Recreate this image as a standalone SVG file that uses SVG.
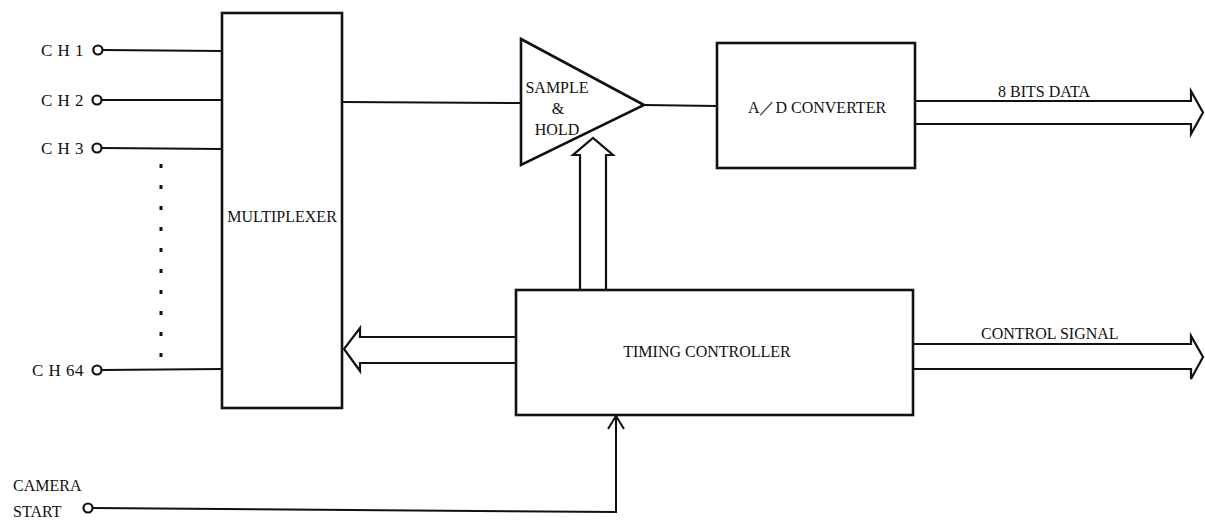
<svg xmlns="http://www.w3.org/2000/svg" width="1205" height="527" viewBox="0 0 1205 527">
<style>
.box{fill:#fff;stroke:#111;stroke-width:2.6}
.ln{fill:none;stroke:#111;stroke-width:2}
.hol{fill:#fff;stroke:#111;stroke-width:2.2;stroke-linejoin:miter}
.term{fill:#fff;stroke:#111;stroke-width:2.2}
text{font-family:"Liberation Serif","Times New Roman",serif;fill:#111;font-size:16px}
.c{text-anchor:middle}
.ch{text-anchor:end;font-size:17px;letter-spacing:0.5px}
</style>
<rect width="1205" height="527" fill="#fff"/>
<g id="connectors">
<line class="ln" x1="103" y1="50" x2="222" y2="51"/>
<line class="ln" x1="102" y1="100" x2="222" y2="100"/>
<line class="ln" x1="102" y1="148" x2="222" y2="149"/>
<line class="ln" x1="102" y1="370" x2="222" y2="369"/>
<line x1="161" y1="164" x2="161" y2="360" stroke="#111" stroke-width="3" stroke-dasharray="4 17"/>
<line class="ln" x1="342" y1="102" x2="521" y2="103"/>
<line class="ln" x1="644" y1="105" x2="717" y2="106"/>
<path class="hol" d="M580,290 V155 H573 L593,138 L613,155 H606 V290"/>
<path class="hol" d="M915,101 H1191 V91 L1203,112.5 L1191,134 V124 H915"/>
<path class="hol" d="M516,337 H360 V328 L344,349 L360,371 V363 H516"/>
<path class="hol" d="M913,344 H1191 V336 L1203,357 L1191,379 V369 H913"/>
<polyline class="ln" points="93,508 616,512 616,416"/>
<polyline class="ln" points="608,429 616,416 624,429"/>
</g>
<g id="ch1"><circle class="term" cx="98" cy="50" r="4.5"/><text class="ch" x="84" y="56">C H 1</text></g>
<g id="ch2"><circle class="term" cx="97" cy="100" r="4.5"/><text class="ch" x="84" y="106">C H 2</text></g>
<g id="ch3"><circle class="term" cx="97" cy="148" r="4.5"/><text class="ch" x="84" y="154">C H 3</text></g>
<g id="ch64"><circle class="term" cx="97" cy="370" r="4.5"/><text class="ch" x="84" y="376">C H 64</text></g>
<g id="multiplexer"><rect class="box" x="222" y="13" width="120" height="395"/><text class="c" x="282" y="222">MULTIPLEXER</text></g>
<g id="sample-hold"><polygon class="box" points="521,39 644,105 521,165"/><text class="c" x="557" y="93" font-size="17">SAMPLE</text><text class="c" x="558" y="114" font-size="17">&amp;</text><text class="c" x="557" y="135" font-size="17">HOLD</text></g>
<g id="ad-converter"><rect class="box" x="717" y="43" width="198" height="125"/><text class="c" x="817" y="113" font-size="17">A／D CONVERTER</text></g>
<g id="timing-controller"><rect class="box" x="516" y="290" width="397" height="125"/><text class="c" x="707" y="357" font-size="17">TIMING CONTROLLER</text></g>
<g id="bits-label"><text x="998" y="97" font-size="17">8 BITS DATA</text></g>
<g id="control-label"><text x="981" y="339" font-size="17">CONTROL SIGNAL</text></g>
<g id="camera-start"><circle class="term" cx="88" cy="508" r="4.5"/><text x="13" y="491">CAMERA</text><text x="13" y="517">START</text></g>
</svg>
